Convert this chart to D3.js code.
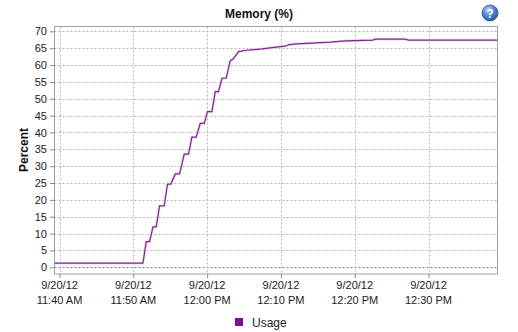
<!DOCTYPE html>
<html>
<head>
<meta charset="utf-8">
<script src="https://d3js.org/d3.v7.min.js"></script>
<style>
  body { margin: 0; background: #fff; }
  svg { font-family: "Liberation Sans", Arial, sans-serif; }
</style>
</head>
<body>
<script>
// memory usage samples
var times = ["11:39:19", "11:51:18", "11:51:45", "11:52:12", "11:52:40", "11:53:06", "11:53:33",
             "11:54:11", "11:54:38", "11:55:05", "11:55:41", "11:56:16", "11:56:54", "11:57:29",
             "11:57:56", "11:58:31", "11:59:04", "11:59:37", "12:00:03", "12:00:39", "12:01:06",
             "12:01:32", "12:02:01", "12:02:35", "12:03:08", "12:03:32", "12:04:15", "12:05:23",
             "12:07:28", "12:09:55", "12:10:35", "12:11:08", "12:12:10", "12:16:41", "12:18:43",
             "12:22:28", "12:22:47", "12:26:50", "12:27:17", "12:39:21"];
var usage = [1.2, 1.2, 7.6, 7.6, 12.0, 12.0, 18.2,
             18.2, 24.7, 24.7, 27.7, 27.7, 33.6, 33.6,
             38.6, 38.6, 42.7, 42.7, 46.2, 46.2, 52.1,
             52.1, 56.1, 56.1, 61.3, 61.8, 64.0, 64.4,
             64.8, 65.5, 65.6, 66.1, 66.3, 66.8, 67.2,
             67.4, 67.7, 67.7, 67.4, 67.4];
var yTicks = [0, 5, 10, 15, 20, 25, 30, 35, 40, 45, 50, 55, 60, 65, 70];
var xTicks = ["11:40", "11:50", "12:00", "12:10", "12:20", "12:30"];
var dateLabel = "9/20/12";

var w = 518, h = 332;
var parse = d3.timeParse("%H:%M:%S");
var parseTick = d3.timeParse("%H:%M");
var data = times.map(function (t, i) { return { t: parse(t), v: usage[i] }; });

var svg = d3.select("body").append("svg")
    .attr("width", w)
    .attr("height", h);

var xScale = d3.scaleTime()
    .domain([parse("11:39:19"), parse("12:39:21")])
    .range([54.5, 497.5]);

var yScale = d3.scaleLinear()
    .domain([-2, 71.6])
    .range([274, 26]);

// grid
svg.append("g").selectAll("line")
    .data(yTicks)
    .enter().append("line")
    .attr("x1", 54.5).attr("x2", 497.5)
    .attr("y1", function (d) { return Math.round(yScale(d)) + 0.5; })
    .attr("y2", function (d) { return Math.round(yScale(d)) + 0.5; })
    .attr("stroke", function (d) { return d === 0 ? "#7f7fc8" : "#b4b4b4"; })
    .attr("stroke-dasharray", "2,2");

svg.append("g").selectAll("line")
    .data(xTicks)
    .enter().append("line")
    .attr("x1", function (d) { return Math.round(xScale(parseTick(d))) + 0.5; })
    .attr("x2", function (d) { return Math.round(xScale(parseTick(d))) + 0.5; })
    .attr("y1", 26.5).attr("y2", 274)
    .attr("stroke", "#b4b4b4")
    .attr("stroke-dasharray", "2,2");

// frame
svg.append("rect")
    .attr("x", 54.5).attr("y", 26.5)
    .attr("width", 443).attr("height", 247.5)
    .attr("fill", "none")
    .attr("stroke", "#a0a0a0");

// axes
var yAxis = d3.axisLeft(yScale)
    .tickValues(yTicks)
    .tickSize(4)
    .tickPadding(3);
var gy = svg.append("g")
    .attr("transform", "translate(54,0)")
    .call(yAxis);
gy.select(".domain").remove();
gy.selectAll(".tick line").attr("stroke", "#888");
gy.selectAll("text").attr("font-size", 11).attr("fill", "#222")
    .attr("font-family", "Liberation Sans, Arial, sans-serif");

var xAxis = d3.axisBottom(xScale)
    .tickValues(xTicks.map(parseTick))
    .tickSize(4)
    .tickFormat("");
var gx = svg.append("g")
    .attr("transform", "translate(0,274)")
    .call(xAxis);
gx.select(".domain").remove();
gx.selectAll(".tick line").attr("stroke", "#888");

var fmt = d3.timeFormat("%-I:%M %p");
var lab = svg.append("g").selectAll("text")
    .data(xTicks)
    .enter().append("text")
    .attr("text-anchor", "middle")
    .attr("font-size", 11)
    .attr("fill", "#222")
    .attr("x", function (d) { return xScale(parseTick(d)); });
lab.append("tspan").attr("x", function (d) { return xScale(parseTick(d)); })
    .attr("y", 289).text(dateLabel);
lab.append("tspan").attr("x", function (d) { return xScale(parseTick(d)); })
    .attr("y", 304).text(function (d) { return fmt(parseTick(d)); });

// line
var line = d3.line()
    .x(function (d) { return xScale(d.t); })
    .y(function (d) { return yScale(d.v); });

svg.append("path")
    .datum(data)
    .attr("d", line)
    .attr("fill", "none")
    .attr("stroke", "#f1d4f4")
    .attr("stroke-width", 2.6);
svg.append("path")
    .datum(data)
    .attr("d", line)
    .attr("fill", "none")
    .attr("stroke", "#7a2a8c")
    .attr("stroke-width", 1.2);

// titles
svg.append("text")
    .attr("x", 259).attr("y", 18)
    .attr("text-anchor", "middle")
    .attr("font-size", 12).attr("font-weight", "bold")
    .attr("fill", "#111")
    .text("Memory (%)");

svg.append("text")
    .attr("transform", "translate(28,150) rotate(-90)")
    .attr("text-anchor", "middle")
    .attr("font-size", 12).attr("font-weight", "bold")
    .attr("fill", "#111")
    .text("Percent");

// legend
svg.append("rect")
    .attr("x", 235).attr("y", 318)
    .attr("width", 8).attr("height", 8)
    .attr("fill", "#7d0f94");
svg.append("text")
    .attr("x", 252).attr("y", 327)
    .attr("font-size", 12)
    .attr("fill", "#222")
    .text("Usage");

// help icon
var grad = svg.append("defs").append("radialGradient")
    .attr("id", "hg").attr("cx", "40%").attr("cy", "30%").attr("r", "70%");
grad.append("stop").attr("offset", "0%").attr("stop-color", "#b8d4f4");
grad.append("stop").attr("offset", "60%").attr("stop-color", "#4a7fc8");
grad.append("stop").attr("offset", "100%").attr("stop-color", "#2a5aa8");
svg.append("circle")
    .attr("cx", 490).attr("cy", 13).attr("r", 8)
    .attr("fill", "url(#hg)")
    .attr("stroke", "#2f5590").attr("stroke-width", 0.8);
svg.append("text")
    .attr("x", 490).attr("y", 17.5)
    .attr("text-anchor", "middle")
    .attr("font-size", 12).attr("font-weight", "bold")
    .attr("fill", "#fff")
    .text("?");
</script>
</body>
</html>
